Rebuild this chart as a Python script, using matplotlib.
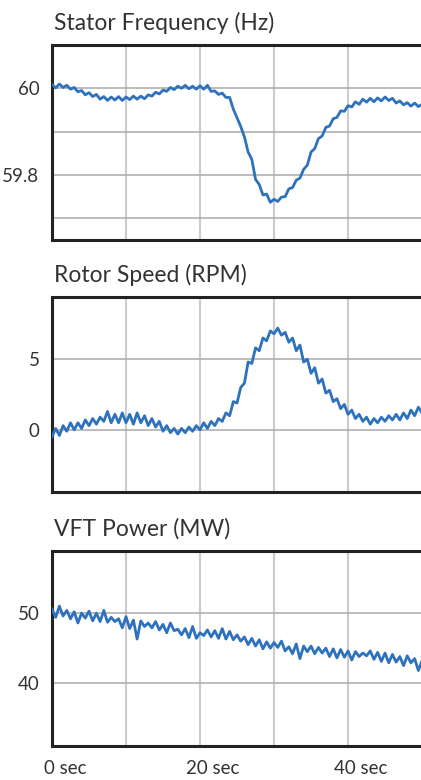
import numpy as np
import matplotlib
matplotlib.use('Agg')
import matplotlib.pyplot as plt
from matplotlib.transforms import ScaledTranslation

# sample times, one every half second
seconds = np.arange(0, 50.5, 0.5)

stator_hz = [
    60.009, 60.001, 60.010, 60.002, 60.007, 59.998, 60.002, 59.992, 59.995, 59.985,
    59.990, 59.981, 59.986, 59.975, 59.981, 59.972, 59.980, 59.973, 59.981, 59.972,
    59.980, 59.974, 59.982, 59.975, 59.982, 59.976, 59.985, 59.982, 59.991, 59.987,
    59.996, 59.993, 60.002, 59.997, 60.005, 60.000, 60.007, 59.999, 60.005, 59.998,
    60.006, 59.998, 60.007, 59.993, 59.994, 59.986, 59.989, 59.979, 59.979, 59.952,
    59.932, 59.912, 59.888, 59.853, 59.836, 59.790, 59.778, 59.754, 59.756, 59.737,
    59.744, 59.739, 59.749, 59.750, 59.768, 59.771, 59.788, 59.793, 59.813, 59.823,
    59.853, 59.861, 59.884, 59.890, 59.910, 59.913, 59.930, 59.933, 59.948, 59.947,
    59.960, 59.957, 59.969, 59.963, 59.975, 59.968, 59.977, 59.969, 59.978, 59.971,
    59.980, 59.972, 59.977, 59.966, 59.971, 59.962, 59.967, 59.959, 59.966, 59.958,
    59.963,
]

rotor_rpm = [
    -0.5, 0.1, -0.4, 0.3, -0.1, 0.5, 0.0, 0.5, 0.1, 0.7,
    0.3, 0.8, 0.4, 0.9, 0.6, 1.3, 0.5, 1.1, 0.5, 1.2,
    0.5, 1.1, 0.4, 1.2, 0.5, 1.0, 0.3, 0.8, 0.2, 0.6,
    -0.1, 0.3, -0.2, 0.1, -0.3, 0.1, -0.2, 0.2, -0.1, 0.3,
    0.0, 0.5, 0.1, 0.6, 0.3, 0.8, 0.6, 1.2, 1.0, 2.0,
    1.9, 3.0, 3.3, 4.8, 4.7, 5.8, 5.6, 6.5, 6.3, 7.0,
    6.8, 7.2, 6.7, 6.9, 6.2, 6.5, 5.6, 6.0, 4.8, 5.0,
    4.0, 4.4, 3.3, 3.6, 2.6, 2.8, 2.0, 2.2, 1.5, 1.8,
    1.1, 1.4, 0.8, 1.1, 0.6, 0.9, 0.4, 0.8, 0.5, 0.9,
    0.6, 1.0, 0.7, 1.1, 0.7, 1.2, 0.8, 1.4, 1.0, 1.6,
    1.2,
]

vft_mw = [
    50.6, 49.4, 51.0, 49.6, 50.4, 49.2, 50.2, 48.6, 50.0, 49.3,
    50.3, 48.9, 50.0, 48.8, 50.4, 48.7, 49.4, 48.8, 49.2, 47.9,
    49.5, 47.8, 49.0, 46.3, 48.9, 48.1, 48.6, 47.9, 48.8, 47.6,
    48.4, 47.2, 48.6, 47.5, 47.7, 46.9, 47.8, 46.5, 48.1, 46.4,
    47.2, 46.8, 47.6, 46.6, 47.5, 46.4, 47.8, 46.3, 47.4, 46.2,
    46.9, 46.0, 46.6, 45.5, 46.4, 45.3, 46.2, 44.9, 45.9, 45.0,
    45.8, 45.1, 46.0, 44.6, 45.2, 44.2, 45.6, 43.5, 45.3, 44.5,
    45.3, 44.2, 45.1, 44.3, 45.0, 43.8, 44.9, 43.6, 44.8, 43.7,
    44.6, 43.3, 44.5, 43.8, 44.3, 43.9, 44.6, 43.4, 44.4, 43.1,
    44.3, 42.9, 44.1, 43.0, 43.8, 42.5, 43.9, 42.9, 43.5, 41.8,
    43.2,
]

titles = ['Stator Frequency (Hz)', 'Rotor Speed (RPM)', 'VFT Power (MW)']
series = [stator_hz, rotor_rpm, vft_mw]
y_limits = [(59.65, 60.1), (-4.4, 9.4), (31.0, 58.9)]
y_ticks = [[59.8, 60.0], [0, 5], [40, 50]]
y_ticklabels = [['59.8', '60'], ['0', '5'], ['40', '50']]
y_minor = [[59.7, 59.9], [], []]
x_ticks = [0, 10, 20, 30, 40, 50]
x_ticklabels = ['0 sec', '', '20 sec', '', '40 sec', '']

plt.rcParams['font.family'] = ['Lato', 'DejaVu Sans']
text_color = '#333333'
line_color = '#2e72be'

fig = plt.figure(figsize=(4.21, 7.8), dpi=100)
bottoms = [0.6923, 0.3692, 0.0436]

for i in range(3):
    ax = fig.add_axes([0.1235, bottoms[i], 0.879, 0.25])
    ax.plot(seconds, series[i], color=line_color, linewidth=2.0, zorder=3)
    ax.set_xlim(0, 50)
    ax.set_ylim(*y_limits[i])

    ax.set_xticks(x_ticks)
    ax.set_yticks(y_ticks[i])
    ax.set_yticklabels(y_ticklabels[i])
    ax.set_yticks(y_minor[i], minor=True)

    ax.grid(axis='x', color='#cccccc', linewidth=1.5, zorder=0)
    ax.grid(axis='y', which='both', color='#aaaaaa', linewidth=1.1, zorder=0)

    ax.tick_params(length=0, which='both', labelsize=13.5, colors=text_color, pad=9)
    ax.tick_params(axis='x', pad=10)

    if i == 2:
        ax.set_xticklabels(x_ticklabels)
        shift = ScaledTranslation(0.13, 0, fig.dpi_scale_trans)
        for lbl in ax.get_xticklabels():
            lbl.set_transform(lbl.get_transform() + shift)
    else:
        ax.set_xticklabels([])

    for side in ['left', 'top', 'bottom']:
        ax.spines[side].set_linewidth(2.2)
        ax.spines[side].set_color('#222222')
    ax.spines['right'].set_visible(False)

    ax.text(0.005, 1.115, titles[i], transform=ax.transAxes, ha='left', va='center',
            fontsize=16.5, color=text_color)

fig.savefig('out.png', dpi=100)
